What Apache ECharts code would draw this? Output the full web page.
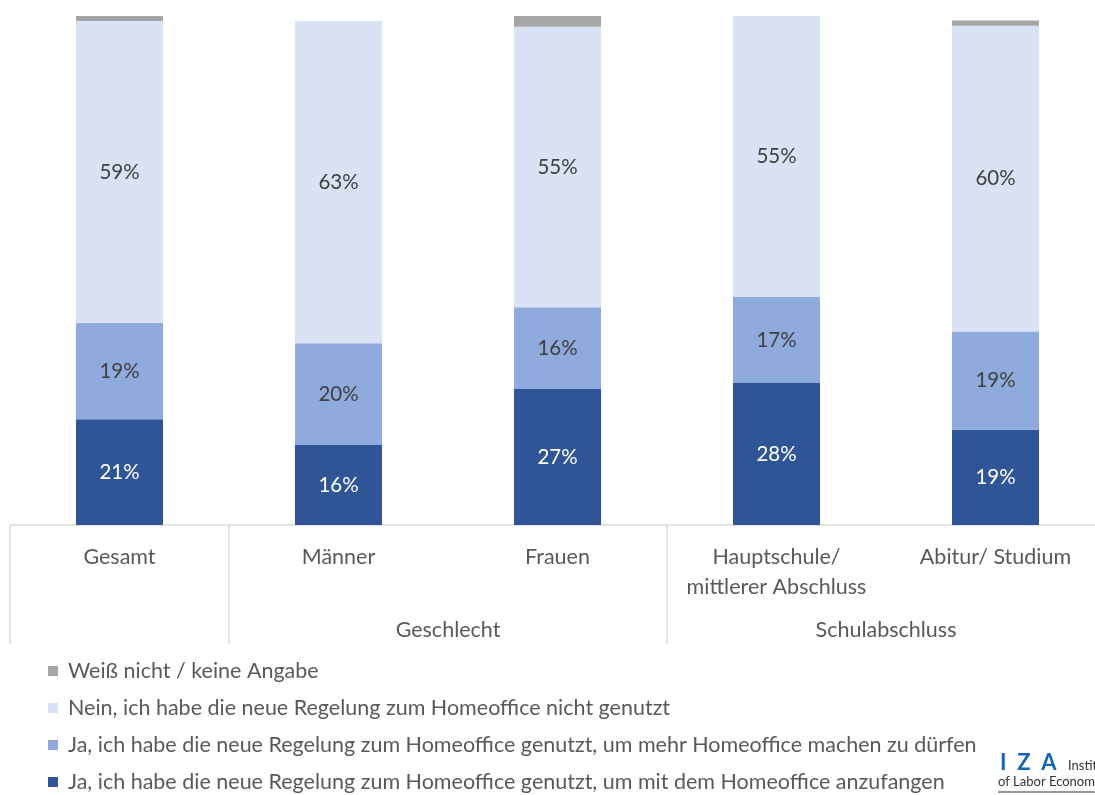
<!DOCTYPE html>
<html>
<head>
<meta charset="utf-8">
<script src="https://cdn.jsdelivr.net/npm/echarts@6/dist/echarts.min.js"></script>
<style>
  html, body { margin: 0; padding: 0; background: #fff; }
  #bar-chart { width: 1095px; height: 795px; }
</style>
</head>
<body>
<div id="bar-chart"></div>
<script>
// categories and values (percent)
var kategorien = ['Gesamt', 'Männer', 'Frauen', 'Hauptschule/\nmittlerer Abschluss', 'Abitur/ Studium'];
var gruppen = { 2: 'Geschlecht', 4: 'Schulabschluss' };

var anfangen  = [20.8, 15.7, 26.7, 27.9, 18.7];
var mehrHO    = [18.9, 20.0, 16.1, 16.9, 19.3];
var nichtGen  = [59.3, 63.3, 55.1, 55.2, 60.1];
var weissNich = [1.0, 0, 2.1, 0, 1.0];

var namen = [
  'Ja, ich habe die neue Regelung zum Homeoffice genutzt, um mit dem Homeoffice anzufangen',
  'Ja, ich habe die neue Regelung zum Homeoffice genutzt, um mehr Homeoffice machen zu dürfen',
  'Nein, ich habe die neue Regelung zum Homeoffice nicht genutzt',
  'Weiß nicht / keine Angabe'
];

var schrift = 'Lato, "Open Sans", sans-serif';

function label(farbe) {
  return {
    show: true,
    position: 'inside',
    color: farbe,
    fontFamily: schrift,
    fontSize: 20.5,
    formatter: function (p) { return Math.round(p.value) + '%'; }
  };
}

var myChart = echarts.init(document.getElementById('bar-chart'));

option = {
  animation: false,
  color: ['#2F5597', '#8FAADC', '#DAE3F3', '#A5A5A5'],
  grid: { left: 10, right: -10, top: 16, bottom: 270, outerBoundsMode: 'none', containLabel: false },
  legend: {
    orient: 'vertical',
    left: 48,
    top: 660,
    height: 135,
    padding: 0,
    itemWidth: 10,
    itemHeight: 10,
    itemGap: 15,
    icon: 'rect',
    data: [namen[3], namen[2], namen[1], namen[0]],
    textStyle: { color: '#595959', fontFamily: schrift, fontSize: 21.5, padding: [0, 0, 0, 5] }
  },
  xAxis: [
    {
      type: 'category',
      data: kategorien,
      axisLine: { lineStyle: { color: '#d9d9d9', width: 1.5 } },
      axisTick: {
        show: true,
        length: 119,
        lineStyle: { color: '#d9d9d9', width: 1.5 },
        interval: function (idx) { return idx === 0 || idx === 1 || idx === 3; }
      },
      axisLabel: {
        interval: 0,
        margin: 17,
        color: '#595959',
        fontFamily: schrift,
        fontSize: 21.5,
        lineHeight: 30
      }
    },
    {
      type: 'value',
      position: 'bottom',
      min: 0,
      max: 5,
      interval: 1,
      axisLine: { show: false },
      axisTick: { show: false },
      splitLine: { show: false },
      axisLabel: {
        margin: 94,
        color: '#595959',
        fontFamily: schrift,
        fontSize: 21.5,
        formatter: function (v) { return gruppen[v] || ''; }
      }
    }
  ],
  yAxis: {
    type: 'value',
    min: 0,
    max: 100,
    show: false
  },
  series: [
    { name: namen[0], type: 'bar', stack: 'a', barWidth: 87, data: anfangen, label: label('#ffffff') },
    { name: namen[1], type: 'bar', stack: 'a', data: mehrHO, label: label('#404040') },
    { name: namen[2], type: 'bar', stack: 'a', data: nichtGen, label: label('#404040') },
    { name: namen[3], type: 'bar', stack: 'a', data: weissNich }
  ],
  graphic: [
    { type: 'text', left: 1000, top: 752, style: { text: 'I  Z  A', fill: '#1565b8', font: 'bold 22px ' + schrift } },
    { type: 'text', left: 1068, top: 759, style: { text: 'Institute', fill: '#333', font: '13px ' + schrift } },
    { type: 'text', left: 998, top: 775, style: { text: 'of Labor Economics', fill: '#333', font: '13px ' + schrift } },
    { type: 'line', shape: { x1: 998, y1: 792, x2: 1095, y2: 792 }, style: { stroke: '#333', lineWidth: 1 } }
  ]
};

myChart.setOption(option, true);
</script>
</body>
</html>
